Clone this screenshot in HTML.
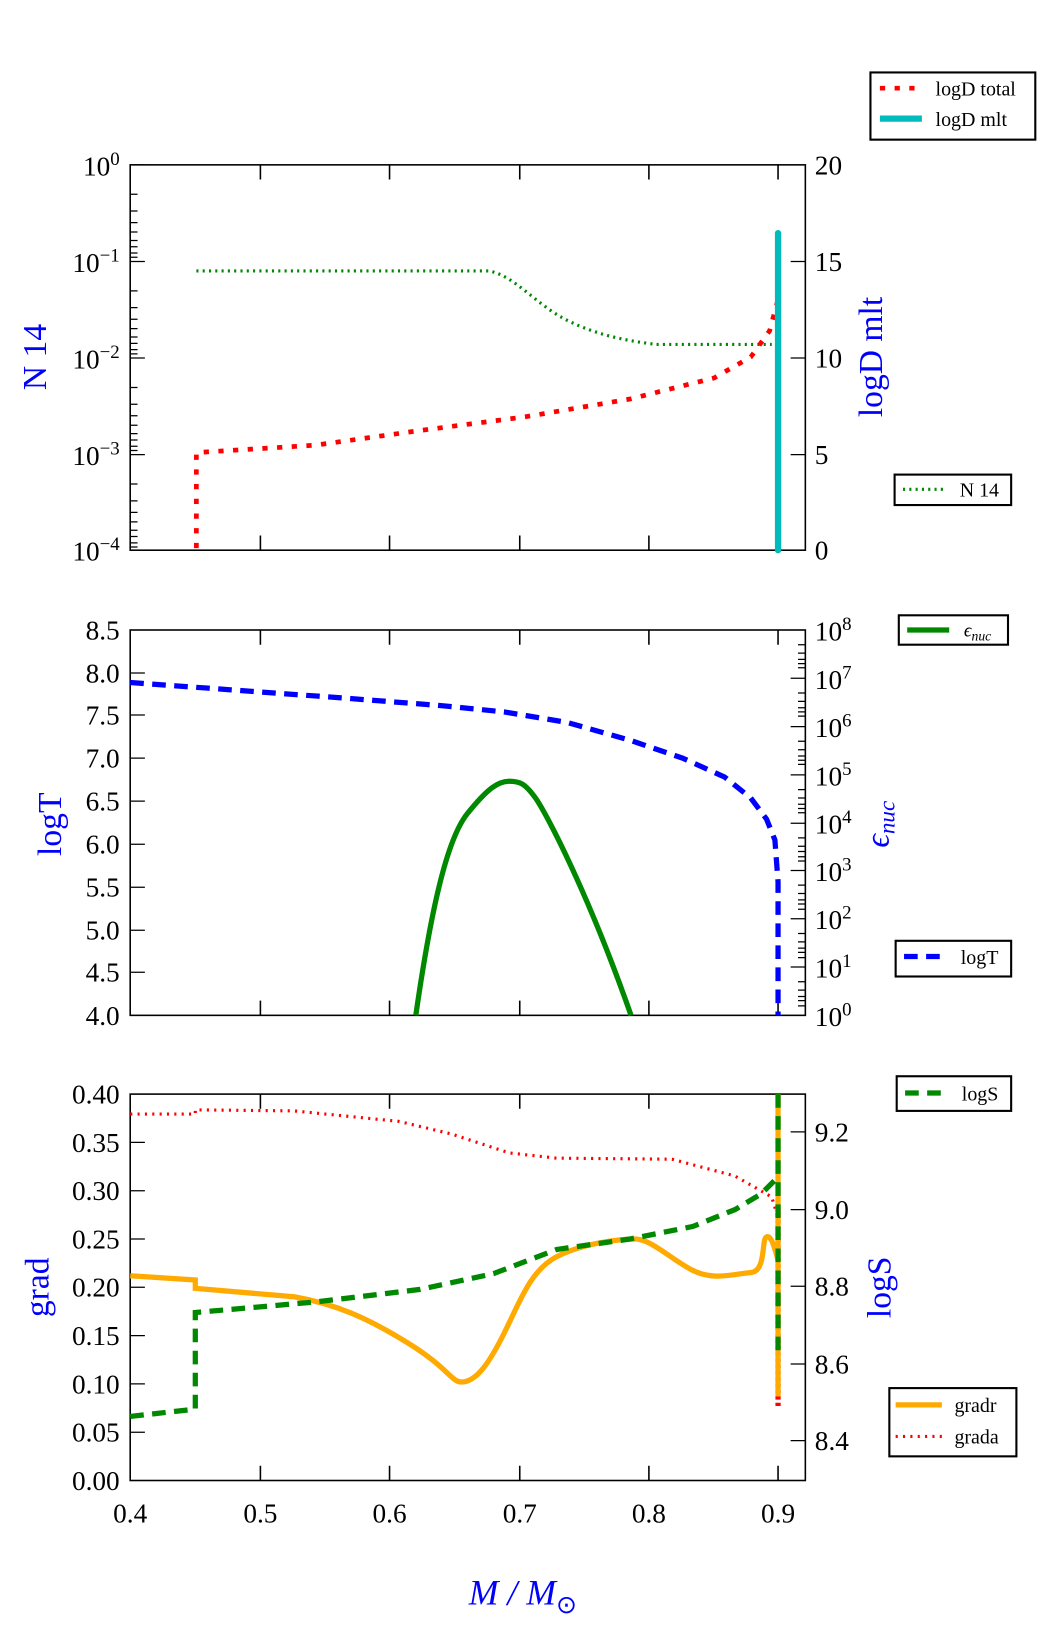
<!DOCTYPE html>
<html><head><meta charset="utf-8"><style>body{margin:0;background:#fff}svg{display:block}text{font-family:"Liberation Serif",serif;font-size:26px}</style></head><body>
<svg width="1050" height="1650" viewBox="0 0 1000 1571.43" xmlns="http://www.w3.org/2000/svg">
<defs><g id="xt">
<path d="M248 0v-14M371 0v-14M495 0v-14M618 0v-14M741 0v-14" stroke="#000" stroke-width="1.5"/></g></defs>
<!-- Panel 1 -->
<rect x="124" y="157" width="643" height="367" fill="none" stroke="#000" stroke-width="1.5"/>
<use href="#xt" transform="translate(0,524)"/><use href="#xt" transform="translate(0,157) scale(1,-1)"/>
<g stroke="#000" stroke-width="1.2">
<path d="M124 157h14M124 249h14M124 341h14M124 433h14"/>
<path d="M124 185h7M124 201h7M124 212h7M124 221h7M124 229h7M124 235h7M124 241h7M124 245h7M124 277h7M124 293h7M124 304h7M124 313h7M124 321h7M124 327h7M124 333h7M124 337h7M124 369h7M124 385h7M124 396h7M124 405h7M124 413h7M124 419h7M124 425h7M124 429h7M124 461h7M124 477h7M124 488h7M124 497h7M124 505h7M124 511h7M124 517h7M124 521h7"/>
<path d="M767 249h-14M767 341h-14M767 433h-14"/></g>
<g text-anchor="end"><text x="114" y="167">10<tspan dy="-10" font-size="18">0</tspan></text><text x="114" y="259">10<tspan dy="-10" font-size="18">−1</tspan></text><text x="114" y="351">10<tspan dy="-10" font-size="18">−2</tspan></text><text x="114" y="443">10<tspan dy="-10" font-size="18">−3</tspan></text><text x="114" y="534">10<tspan dy="-10" font-size="18">−4</tspan></text></g>
<g><text x="776" y="166">20</text><text x="776" y="258">15</text><text x="776" y="350">10</text><text x="776" y="442">5</text><text x="776" y="533">0</text></g>
<text transform="translate(44,340) rotate(-90)" text-anchor="middle" fill="#00f" style="font-size:32px">N 14</text>
<text transform="translate(840,340) rotate(-90)" text-anchor="middle" fill="#00f" style="font-size:32px">logD mlt</text>
<path d="M187 258H465C490 262 510 290 540 305S600 325 625 328H735" fill="none" stroke="#080" stroke-width="3" stroke-dasharray="2,4"/>
<path d="M187 522V431L300 424L400 410L500 397L600 380L680 360L715 340L733 315L741 285" fill="none" stroke="#f00" stroke-width="4.5" stroke-dasharray="5,9"/>
<path d="M741 524V222" stroke="#0bb" stroke-width="6" stroke-linecap="round"/>
<rect x="829" y="69" width="157" height="64" fill="#fff" stroke="#000" stroke-width="2"/>
<path d="M838 84h40" stroke="#f00" stroke-width="4.5" stroke-dasharray="5,9"/><text x="891" y="91" style="font-size:19px">logD total</text>
<path d="M838 113h40" stroke="#0bb" stroke-width="6"/><text x="891" y="120" style="font-size:19px">logD mlt</text>
<rect x="852" y="452" width="111" height="29" fill="#fff" stroke="#000" stroke-width="2"/>
<path d="M860 466h40" stroke="#080" stroke-width="3" stroke-dasharray="2,4"/><text x="914" y="473" style="font-size:19px">N 14</text>
<!-- Panel 2 -->
<rect x="124" y="600" width="643" height="367" fill="none" stroke="#000" stroke-width="1.5"/>
<use href="#xt" transform="translate(0,967)"/><use href="#xt" transform="translate(0,600) scale(1,-1)"/>
<g stroke="#000" stroke-width="1.2">
<path d="M124 641h14M124 681h14M124 722h14M124 763h14M124 804h14M124 845h14M124 886h14M124 926h14"/>
<path d="M767 646h-14M767 692h-14M767 738h-14M767 784h-14M767 829h-14M767 875h-14M767 921h-14"/>
<path d="M767 614h-7M767 622h-7M767 628h-7M767 632h-7M767 636h-7M767 660h-7M767 668h-7M767 674h-7M767 678h-7M767 682h-7M767 706h-7M767 714h-7M767 720h-7M767 724h-7M767 728h-7M767 752h-7M767 760h-7M767 766h-7M767 770h-7M767 774h-7M767 798h-7M767 806h-7M767 811h-7M767 816h-7M767 820h-7M767 843h-7M767 851h-7M767 857h-7M767 861h-7M767 866h-7M767 889h-7M767 897h-7M767 903h-7M767 907h-7M767 912h-7M767 935h-7M767 943h-7M767 949h-7M767 953h-7M767 958h-7"/></g>
<g text-anchor="end"><text x="114" y="609">8.5</text><text x="114" y="650">8.0</text><text x="114" y="690">7.5</text><text x="114" y="731">7.0</text><text x="114" y="772">6.5</text><text x="114" y="813">6.0</text><text x="114" y="854">5.5</text><text x="114" y="895">5.0</text><text x="114" y="935">4.5</text><text x="114" y="976">4.0</text></g>
<g><text x="776" y="610">10<tspan dy="-10" font-size="18">8</tspan></text><text x="776" y="656">10<tspan dy="-10" font-size="18">7</tspan></text><text x="776" y="702">10<tspan dy="-10" font-size="18">6</tspan></text><text x="776" y="748">10<tspan dy="-10" font-size="18">5</tspan></text><text x="776" y="794">10<tspan dy="-10" font-size="18">4</tspan></text><text x="776" y="839">10<tspan dy="-10" font-size="18">3</tspan></text><text x="776" y="885">10<tspan dy="-10" font-size="18">2</tspan></text><text x="776" y="931">10<tspan dy="-10" font-size="18">1</tspan></text><text x="776" y="977">10<tspan dy="-10" font-size="18">0</tspan></text></g>
<text transform="translate(58,785) rotate(-90)" text-anchor="middle" fill="#00f" style="font-size:32px">logT</text>
<text transform="translate(846,785) rotate(-90)" text-anchor="middle" fill="#00f" style="font-size:32px;font-style:italic">ϵ<tspan style="font-size:22px" dy="6">nuc</tspan></text>
<path d="M124 650L220 657L330 665L420 672L480 678L540 688L600 705L650 722L690 740L715 760L730 780L738 800L741 840V967" fill="none" stroke="#00f" stroke-width="5" stroke-dasharray="13,8"/>
<path d="M396 967C410 870 425 800 445 775S475 744 485 744S500 746 510 760S560 850 601 967" fill="none" stroke="#080" stroke-width="5"/>
<rect x="856" y="586" width="104" height="28" fill="#fff" stroke="#000" stroke-width="2"/>
<path d="M864 600h40" stroke="#080" stroke-width="5"/><text x="918" y="606" style="font-size:18px;font-style:italic">ϵ<tspan style="font-size:13px" dy="4">nuc</tspan></text>
<rect x="853" y="896" width="110" height="34" fill="#fff" stroke="#000" stroke-width="2"/>
<path d="M861 911h42" stroke="#00f" stroke-width="5" stroke-dasharray="13,8"/><text x="915" y="918" style="font-size:19px">logT</text>
<!-- Panel 3 -->
<rect x="124" y="1042" width="643" height="368" fill="none" stroke="#000" stroke-width="1.5"/>
<use href="#xt" transform="translate(0,1410)"/><use href="#xt" transform="translate(0,1042) scale(1,-1)"/>
<g stroke="#000" stroke-width="1.2">
<path d="M124 1088h14M124 1134h14M124 1180h14M124 1226h14M124 1272h14M124 1318h14M124 1364h14"/>
<path d="M767 1078h-14M767 1152h-14M767 1225h-14M767 1299h-14M767 1372h-14"/></g>
<g text-anchor="end"><text x="114" y="1051">0.40</text><text x="114" y="1097">0.35</text><text x="114" y="1143">0.30</text><text x="114" y="1189">0.25</text><text x="114" y="1235">0.20</text><text x="114" y="1281">0.15</text><text x="114" y="1327">0.10</text><text x="114" y="1373">0.05</text><text x="114" y="1419">0.00</text></g>
<g><text x="776" y="1087">9.2</text><text x="776" y="1161">9.0</text><text x="776" y="1234">8.8</text><text x="776" y="1308">8.6</text><text x="776" y="1381">8.4</text></g>
<g text-anchor="middle"><text x="124" y="1450">0.4</text><text x="248" y="1450">0.5</text><text x="371" y="1450">0.6</text><text x="495" y="1450">0.7</text><text x="618" y="1450">0.8</text><text x="741" y="1450">0.9</text></g>
<text transform="translate(46,1226) rotate(-90)" text-anchor="middle" fill="#00f" style="font-size:32px">grad</text>
<text transform="translate(848,1226) rotate(-90)" text-anchor="middle" fill="#00f" style="font-size:32px">logS</text>
<text x="498" y="1528" text-anchor="middle" fill="#00f" style="font-size:34px;font-style:italic">M / M<tspan style="font-size:24px;font-style:normal" dy="8">⊙</tspan></text>
<path d="M124 1061H186V1057L280 1058L380 1068L430 1080L485 1098L530 1103L640 1104L700 1120L735 1140L741 1160" fill="none" stroke="#f00" stroke-width="3" stroke-dasharray="2,5"/>
<path d="M741 1150V1342" fill="none" stroke="#f00" stroke-width="5" stroke-dasharray="3,3"/>
<path d="M124 1215L186 1219V1227L280 1235C320 1242 350 1255 390 1280S430 1318 442 1316S465 1300 480 1270S505 1210 530 1197S590 1180 605 1180S640 1200 660 1210S700 1213 715 1212S725 1180 730 1178S738 1190 741 1200M741 1042V1330" fill="none" stroke="#fa0" stroke-width="5"/>
<path d="M124 1349L186 1342V1250L300 1240L400 1228L470 1213L530 1190L600 1180L660 1168L700 1152L725 1137L740 1122M741 1042V1290" fill="none" stroke="#080" stroke-width="5" stroke-dasharray="13,8"/>
<rect x="854" y="1025" width="109" height="33" fill="#fff" stroke="#000" stroke-width="2"/>
<path d="M862 1041h42" stroke="#080" stroke-width="5" stroke-dasharray="13,8"/><text x="916" y="1048" style="font-size:19px">logS</text>
<rect x="847" y="1322" width="121" height="65" fill="#fff" stroke="#000" stroke-width="2"/>
<path d="M853 1338h44" stroke="#fa0" stroke-width="5"/><text x="909" y="1345" style="font-size:19px">gradr</text>
<path d="M853 1368h44" stroke="#f00" stroke-width="3" stroke-dasharray="2,5"/><text x="909" y="1375" style="font-size:19px">grada</text>
</svg></body></html>
